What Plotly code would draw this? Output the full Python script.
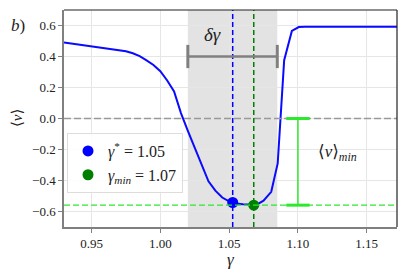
import plotly.graph_objects as go

# curve data
gamma = [0.930, 0.935, 0.940, 0.945, 0.950, 0.955, 0.960, 0.965, 0.970, 0.975,
         0.980, 0.985, 0.990, 0.995, 1.000, 1.005, 1.010, 1.015, 1.020, 1.025,
         1.030, 1.035, 1.040, 1.045, 1.050, 1.0526, 1.055, 1.060, 1.065, 1.0679,
         1.070, 1.075, 1.0806, 1.0853, 1.0900, 1.0956, 1.1006, 1.105, 1.110,
         1.120, 1.130, 1.140, 1.150, 1.160, 1.172]
v_mean = [0.490, 0.484, 0.478, 0.472, 0.466, 0.460, 0.454, 0.448, 0.441, 0.434,
          0.421, 0.402, 0.375, 0.345, 0.305, 0.245, 0.175, 0.035, -0.080, -0.190,
          -0.300, -0.405, -0.465, -0.510, -0.535, -0.542, -0.548, -0.553, -0.556, -0.559,
          -0.556, -0.530, -0.473, -0.290, 0.376, 0.565, 0.590, 0.592, 0.592,
          0.592, 0.592, 0.592, 0.592, 0.592, 0.592]

gamma_star = 1.0526
v_star = -0.542
gamma_min = 1.0679
v_min = -0.559
band = [1.020, 1.085]
dgamma_y = 0.40
vmin_bar_x = 1.10

x_ticks = [0.95, 1.00, 1.05, 1.10, 1.15]
y_ticks = [-0.6, -0.4, -0.2, 0.0, 0.2, 0.4, 0.6]
x_range = [0.93, 1.172]
y_range = [-0.70, 0.70]

FONT = "Liberation Serif, DejaVu Serif, serif"
LIME = "#2ee82e"
TXT = "#222222"

fig = go.Figure()

fig.add_trace(go.Scatter(x=gamma, y=v_mean, mode="lines",
                         line=dict(color="#0a0aff", width=2), showlegend=False))
fig.add_trace(go.Scatter(x=[gamma_star], y=[v_star], mode="markers",
                         marker=dict(color="#0000ff", size=11),
                         name="<i>γ</i><sup>*</sup> = 1.05"))
fig.add_trace(go.Scatter(x=[gamma_min], y=[v_min], mode="markers",
                         marker=dict(color="#007f00", size=11),
                         name="<i>γ<sub>min</sub></i> = 1.07"))

shapes = []
shapes.append(dict(type="rect", xref="x", yref="paper", x0=band[0], x1=band[1], y0=0, y1=1,
                   fillcolor="#e3e3e3", line=dict(width=0), layer="below"))
shapes.append(dict(type="line", xref="paper", yref="y", x0=0, x1=1, y0=0, y1=0,
                   line=dict(color="#999999", width=1.3, dash="7px,3px")))
shapes.append(dict(type="line", xref="paper", yref="y", x0=0, x1=1, y0=v_min, y1=v_min,
                   line=dict(color=LIME, width=1.3, dash="6px,3px")))
shapes.append(dict(type="line", xref="x", yref="paper", x0=gamma_star, x1=gamma_star, y0=0, y1=1,
                   line=dict(color="#0000ff", width=1.5, dash="5px,3px")))
shapes.append(dict(type="line", xref="x", yref="paper", x0=gamma_min, x1=gamma_min, y0=0, y1=1,
                   line=dict(color="#007f00", width=1.5, dash="5px,3px")))
shapes.append(dict(type="line", xref="x", yref="y", x0=band[0], x1=band[1], y0=dgamma_y, y1=dgamma_y,
                   line=dict(color="#808080", width=2.5)))
for xx in band:
    shapes.append(dict(type="line", xref="x", yref="y", x0=xx, x1=xx, y0=dgamma_y - 0.075, y1=dgamma_y + 0.075,
                       line=dict(color="#808080", width=3)))
shapes.append(dict(type="line", xref="x", yref="y", x0=vmin_bar_x, x1=vmin_bar_x, y0=0, y1=v_min,
                   line=dict(color=LIME, width=1.5)))
for yy in [0, v_min]:
    shapes.append(dict(type="line", xref="x", yref="y", x0=vmin_bar_x - 0.0085, x1=vmin_bar_x + 0.0085,
                       y0=yy, y1=yy, line=dict(color=LIME, width=3)))
shapes.append(dict(type="line", xref="paper", yref="paper", x0=0, x1=1, y0=1, y1=1,
                   line=dict(color="#222222", width=1.2)))
shapes.append(dict(type="line", xref="paper", yref="paper", x0=1, x1=1, y0=0, y1=1,
                   line=dict(color="#222222", width=1.2)))

# plot area in reference pixels: x 64..397, y 10..227
PW, PH = 397 - 64, 227 - 10


def px(xp, yp):
    return (xp - 64) / PW, 1 - (yp - 10) / PH


def ann(xp, yp, text, size, angle=0):
    ax, ay = px(xp, yp)
    return dict(x=ax, y=ay, xref="paper", yref="paper", text=text, showarrow=False,
                xanchor="center", yanchor="middle", textangle=angle,
                font=dict(family=FONT, size=size, color=TXT))


annotations = [
    dict(x=1.038, y=0.54, xref="x", yref="y", text="<i>δγ</i>", showarrow=False,
         xanchor="center", yanchor="middle", font=dict(family=FONT, size=19, color=TXT)),
    dict(x=1.129, y=-0.22, xref="x", yref="y", text="⟨<i>v</i>⟩<sub><i>min</i></sub>", showarrow=False,
         xanchor="center", yanchor="middle", font=dict(family=FONT, size=17, color=TXT)),
    ann(18, 25, "<i>b</i>)", 17),
    ann(231, 259, "<i>γ</i>", 17),
    ann(17, 118, "⟨<i>v</i>⟩", 15, -90),
]

# page body has an 8px margin, so the figure is shrunk/shifted by 8px
OFF = 8
fig.update_layout(
    width=407 - OFF, height=273 - OFF,
    margin=dict(l=64 - OFF, r=10, t=10 - OFF, b=46, autoexpand=False),
    paper_bgcolor="white", plot_bgcolor="white",
    font=dict(family=FONT, size=13, color=TXT),
    shapes=shapes, annotations=annotations,
    legend=dict(x=0.009, y=0.433, xanchor="left", yanchor="top",
                bgcolor="rgba(255,255,255,0.85)", bordercolor="#dddddd", borderwidth=1,
                font=dict(family=FONT, size=16, color=TXT), itemwidth=30, tracegroupgap=0),
    xaxis=dict(range=x_range, tickvals=x_ticks, ticktext=[f"{t:.2f}" for t in x_ticks],
               showgrid=True, gridcolor="#e6e6e6", gridwidth=1, zeroline=False, automargin=False,
               showline=True, linecolor="#808080", linewidth=1.5, ticks="outside", ticklen=4,
               tickcolor="#808080", tickfont=dict(family=FONT, size=13, color=TXT)),
    yaxis=dict(range=y_range, tickvals=y_ticks,
               ticktext=[f"{t:.1f}".replace("-", "−") for t in y_ticks],
               showgrid=True, gridcolor="#e6e6e6", gridwidth=1, zeroline=False, automargin=False,
               showline=True, linecolor="#808080", linewidth=1.5, ticks="outside", ticklen=4,
               tickcolor="#808080", tickfont=dict(family=FONT, size=13, color=TXT)),
)

fig.write_html("out.html")
